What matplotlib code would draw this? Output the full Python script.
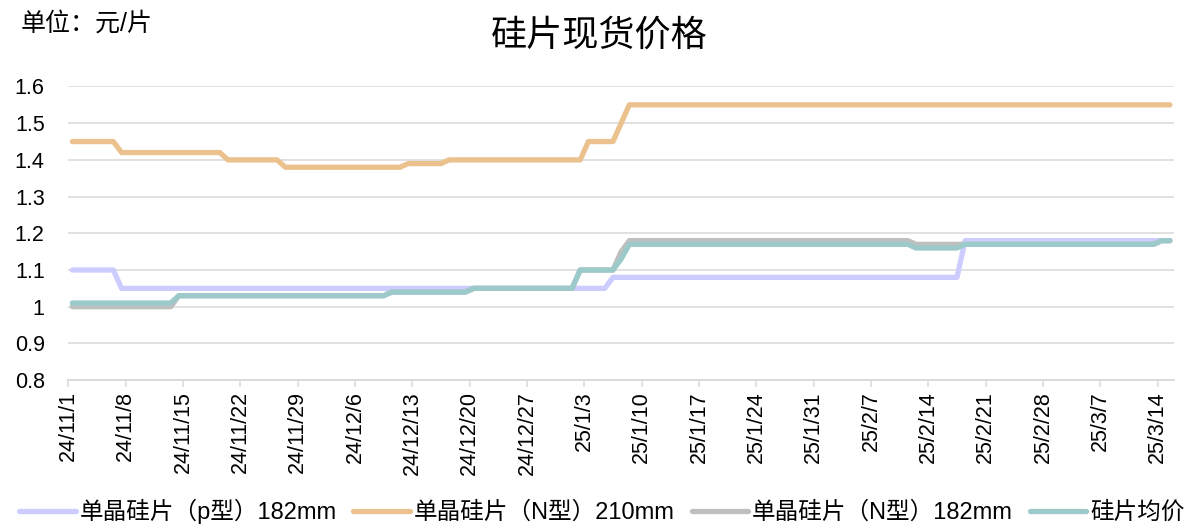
import pandas as pd
import matplotlib
matplotlib.use('Agg')
import matplotlib.pyplot as plt
import matplotlib.dates as mdates

plt.rcParams['font.family'] = ['Liberation Sans', 'Noto Sans CJK SC']
plt.rcParams['axes.unicode_minus'] = False

# 价格拐点（日期, 元/片）
p182_dates = ['2024-11-01', '2024-11-06', '2024-11-07', '2025-01-05', '2025-01-06',
              '2025-02-17', '2025-02-18', '2025-03-15']
p182_vals = [1.10, 1.10, 1.05, 1.05, 1.08, 1.08, 1.18, 1.18]

n210_dates = ['2024-11-01', '2024-11-06', '2024-11-07', '2024-11-19', '2024-11-20',
              '2024-11-26', '2024-11-27', '2024-12-11', '2024-12-12', '2024-12-16',
              '2024-12-17', '2025-01-02', '2025-01-03', '2025-01-06', '2025-01-07',
              '2025-01-08', '2025-03-15']
n210_vals = [1.45, 1.45, 1.42, 1.42, 1.40, 1.40, 1.38, 1.38, 1.39, 1.39,
             1.40, 1.40, 1.45, 1.45, 1.50, 1.55, 1.55]

n182_dates = ['2024-11-01', '2024-11-13', '2024-11-14', '2024-12-09', '2024-12-10',
              '2024-12-19', '2024-12-20', '2025-01-01', '2025-01-02', '2025-01-06',
              '2025-01-07', '2025-01-08', '2025-02-11', '2025-02-12', '2025-03-13',
              '2025-03-14', '2025-03-15']
n182_vals = [1.00, 1.00, 1.03, 1.03, 1.04, 1.04, 1.05, 1.05, 1.10, 1.10,
             1.15, 1.18, 1.18, 1.17, 1.17, 1.18, 1.18]

avg_dates = ['2024-11-01', '2024-11-13', '2024-11-14', '2024-12-09', '2024-12-10',
             '2024-12-19', '2024-12-20', '2025-01-01', '2025-01-02', '2025-01-06',
             '2025-01-07', '2025-01-08', '2025-02-11', '2025-02-12', '2025-02-17',
             '2025-02-18', '2025-03-13', '2025-03-14', '2025-03-15']
avg_vals = [1.01, 1.01, 1.03, 1.03, 1.04, 1.04, 1.05, 1.05, 1.10, 1.10,
            1.13, 1.17, 1.17, 1.16, 1.16, 1.17, 1.17, 1.18, 1.18]

labels = ['单晶硅片（p型）182mm', '单晶硅片（N型）210mm', '单晶硅片（N型）182mm', '硅片均价']
colors = ['#CCCCFF', '#EBC18E', '#BFBFBF', '#9CCACB']

tick_dates = pd.date_range('2024-11-01', '2025-03-14', freq='7D')
tick_labels = [f"{d.year % 100}/{d.month}/{d.day}" for d in tick_dates]
y_ticks = [0.8, 0.9, 1.0, 1.1, 1.2, 1.3, 1.4, 1.5, 1.6]

fig = plt.figure(figsize=(11.92, 5.27), dpi=100)
ax = fig.add_axes([0.0573, 0.2787, 0.9276, 0.5572])

series = [(p182_dates, p182_vals), (n210_dates, n210_vals),
          (n182_dates, n182_vals), (avg_dates, avg_vals)]
for (d, v), lab, c in zip(series, labels, colors):
    x = mdates.date2num(pd.to_datetime(d))
    ax.plot(x, v, color=c, lw=3.8, label=lab,
            solid_capstyle='round', solid_joinstyle='round', zorder=3)

x0 = mdates.date2num(pd.Timestamp('2024-11-01'))
x1 = mdates.date2num(pd.Timestamp('2025-03-15'))
ax.set_xlim(x0 - 0.5, x1 + 0.5)
ax.set_xticks(mdates.date2num(tick_dates) - 0.5)
ax.set_xticklabels(tick_labels, rotation=90, fontsize=15.5)

ax.set_ylim(0.8, 1.6)
ax.set_yticks(y_ticks)
ax.set_yticklabels([f"{v:g}" for v in y_ticks], fontsize=15.5)
ax.yaxis.grid(True, color='#D9D9D9', lw=1.1)
ax.set_axisbelow(True)

for s in ['top', 'right', 'left']:
    ax.spines[s].set_visible(False)
ax.spines['bottom'].set_color('#D9D9D9')
ax.spines['bottom'].set_linewidth(1.3)
ax.tick_params(axis='x', direction='out', length=5, width=1.1, color='#D9D9D9', pad=3)
ax.tick_params(axis='y', length=0, pad=17)

fig.text(0.503, 0.932, '硅片现货价格', ha='center', va='center', fontsize=26)
fig.text(0.017, 0.955, '单位：元/片', ha='left', va='center', fontsize=18)

fig.legend(loc='center', bbox_to_anchor=(0.505, 0.03), ncol=4, frameon=False,
           fontsize=17, handlelength=2.4, handletextpad=0.17, columnspacing=0.7,
           borderpad=0, borderaxespad=0)

fig.savefig('out.png', dpi=100)
